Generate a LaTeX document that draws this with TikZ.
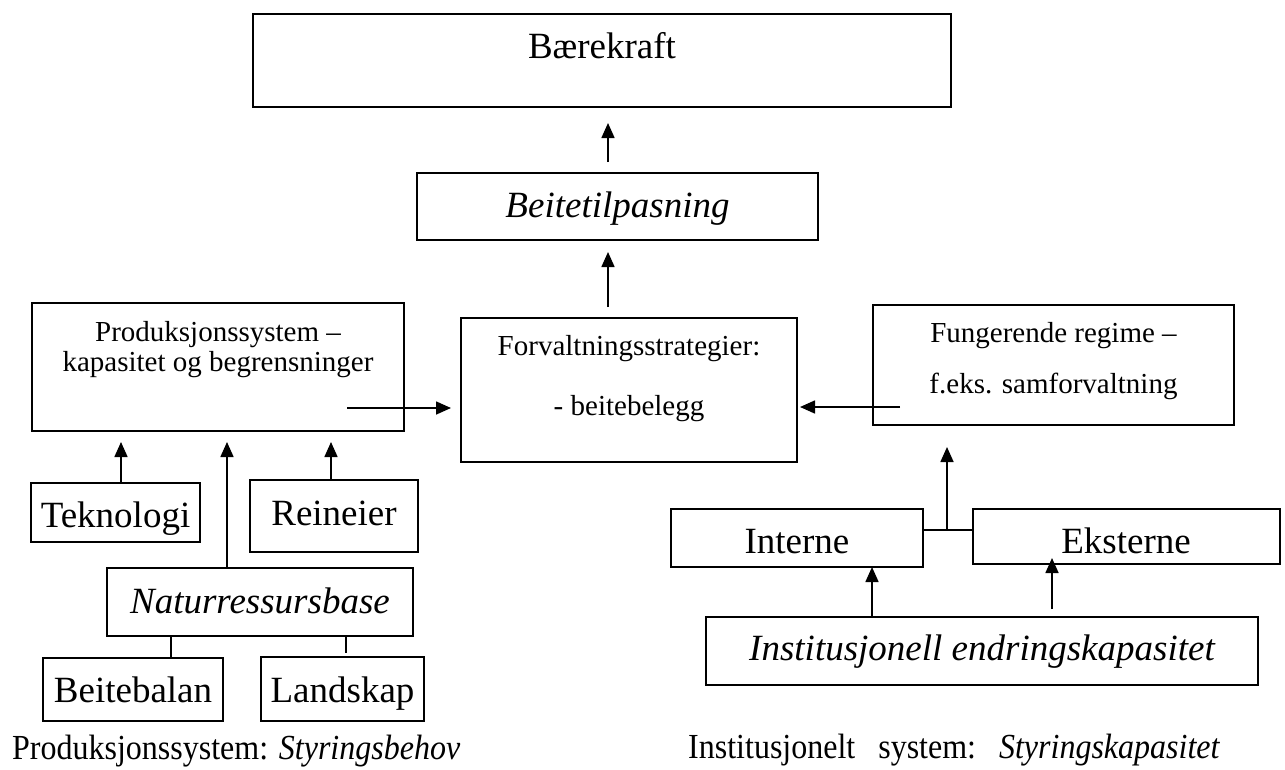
\documentclass[tikz,border=0pt]{standalone}
\usepackage{fontspec}
\setmainfont{Liberation Serif}
\usepackage{graphicx}
\usetikzlibrary{arrows.meta}
\newcommand\fbig{\fontsize{37pt}{40pt}\selectfont}
\newcommand\fmid{\fontsize{29pt}{31pt}\selectfont}
\newcommand\flab{\fontsize{32pt}{34pt}\selectfont}
\newcommand\bx[5]{\node[box, minimum width=#4-#2, minimum height=#5-#3, anchor=north west] (#1) at (#2,#3) {};}
\begin{document}
\begin{tikzpicture}[x=1pt,y=-1pt,
  box/.style={draw, line width=1.8pt, rectangle, inner sep=0pt, outer sep=0pt},
  txt/.style={inner sep=0pt, anchor=base},
  arr/.style={line width=1.6pt, -{Triangle[length=15pt,width=13pt]}},
  ln/.style={line width=1.6pt}]
\useasboundingbox (0,0) rectangle (1285,769);
% boxes
\bx{bk}{253}{14}{951}{107}
\bx{bt}{417}{173}{818}{240}
\bx{prod}{32}{303}{404}{431}
\bx{fv}{461}{318}{797}{462}
\bx{fg}{873}{305}{1234}{425}
\bx{tk}{31}{483}{200}{542}
\bx{re}{250}{480}{418}{552}
\bx{nb}{107}{568}{413}{636}
\bx{bb}{43}{658}{223}{721}
\bx{ls}{261}{657}{424}{721}
\bx{in}{671}{509}{923}{567}
\bx{ek}{973}{509}{1280}{564}
\bx{is}{706}{617}{1258}{685}
% texts
\node[txt, font=\fbig] (bk-t) at (602,58) {Bærekraft};
\node[txt, font=\fbig] (bt-t) at (617.5,217) {\itshape Beitetilpasning};
\node[txt, font=\fmid] (prod-t1) at (218,341) {Produksjonssystem –};
\node[txt, font=\fmid] (prod-t2) at (218,371) {kapasitet og begrensninger};
\node[txt, font=\fmid] (fv-t1) at (629,355) {Forvaltningsstrategier:};
\node[txt, font=\fmid] (fv-t2) at (629,415) {- beitebelegg};
\node[txt, font=\fmid] (fg-t1) at (1053.5,342) {Fungerende regime –};
\node[txt, font=\fmid] (fg-t2) at (1053.5,393) {f.eks. samforvaltning};
\node[txt, font=\fbig] (tk-t) at (115.5,527) {Teknologi};
\node[txt, font=\fbig] (re-t) at (334,525) {Reineier};
\node[txt, font=\fbig] (nb-t) at (260,613) {\itshape Naturressursbase};
\node[txt, font=\fbig] (bb-t) at (133,702) {Beitebalan};
\node[txt, font=\fbig] (ls-t) at (342.5,702) {Landskap};
\node[txt, font=\fbig] (in-t) at (797,553) {Interne};
\node[txt, font=\fbig] (ek-t) at (1126,553) {Eksterne};
\node[txt, font=\fbig] (is-t) at (982,660) {\itshape Institusjonell endringskapasitet};
\node[txt, anchor=base west, font=\flab] (lbl1) at (12,759) {\scalebox{1}[1.1]{Produksjonssystem: \textit{Styringsbehov}}};
\node[txt, anchor=base west, font=\flab] (lbl2) at (688,758) {\scalebox{1}[1.1]{Institusjonelt\hspace{23pt}system:\hspace{23pt}\textit{Styringskapasitet}}};
% connectors
\draw[arr, shorten <=11pt, shorten >=16pt] ([xshift=-9.5pt]bt.north) -- ([xshift=-9.5pt]bt.north |- bk.south);
\draw[arr, shorten <=11pt, shorten >=12pt] ([xshift=-21pt]fv.north) -- ([xshift=-21pt]fv.north |- bt.south);
\draw[arr, shorten >=10pt] ([xshift=-57pt,yshift=-41pt]prod.east) coordinate (p3) -- (p3 -| fv.west);
\draw[arr, shorten >=3pt] ([xshift=27pt,yshift=-42pt]fg.west) coordinate (p4) -- (p4 -| fv.east);
\draw[arr, shorten <=1pt, shorten >=11pt] ([xshift=5.5pt]tk.north) -- ([xshift=5.5pt]tk.north |- prod.south);
\draw[arr, shorten >=11pt] ([xshift=-33pt]nb.north) -- ([xshift=-33pt]nb.north |- prod.south);
\draw[arr, shorten >=11pt] ([xshift=-3pt]re.north) -- ([xshift=-3pt]re.north |- prod.south);
\draw[ln] ([xshift=-89pt]nb.south) -- ([xshift=-89pt]nb.south |- bb.north);
\draw[ln, shorten >=4pt] ([xshift=86pt]nb.south) -- ([xshift=86pt]nb.south |- ls.north);
\draw[ln] ([yshift=8pt]in.east) coordinate (p10) -- (p10 -| ek.west);
\draw[arr, shorten >=22pt] ([xshift=24pt]p10) -- ([xshift=24pt]p10 |- fg.south);
\draw[arr] ([xshift=-110pt]is.north) -- ([xshift=-110pt]is.north |- in.south);
\draw[arr, shorten <=8pt, shorten >=-6pt] ([xshift=70pt]is.north) -- ([xshift=70pt]is.north |- ek.south);
\end{tikzpicture}
\end{document}
